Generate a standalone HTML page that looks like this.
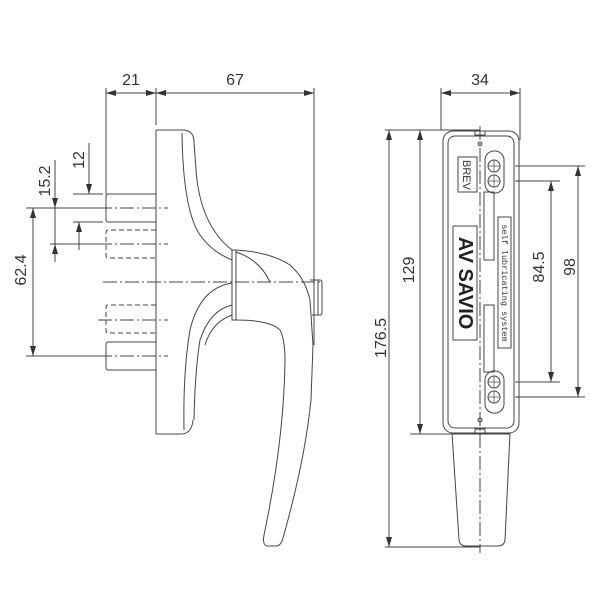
<!DOCTYPE html>
<html><head><meta charset="utf-8"><style>
html,body{margin:0;padding:0;background:#fff;}
svg{display:block;}
text{font-family:"Liberation Sans",sans-serif;fill:#333;}
</style></head><body>
<svg width="600" height="600" viewBox="0 0 600 600" xmlns="http://www.w3.org/2000/svg">
<defs>
<marker id="a" viewBox="0 0 10 6" refX="10" refY="3" markerWidth="10" markerHeight="6" orient="auto-start-reverse" markerUnits="userSpaceOnUse">
<path d="M0,0 L10,3 L0,6 Z" fill="#333"/></marker>
</defs>
<g stroke="#444" stroke-width="1" fill="none">
<!-- LEFT VIEW dims -->
<line x1="106" y1="88" x2="106" y2="194"/>
<line x1="156" y1="88" x2="156" y2="125"/>
<line x1="314" y1="88" x2="314" y2="345"/>
<line x1="106" y1="93" x2="156" y2="93" marker-start="url(#a)" marker-end="url(#a)"/>
<line x1="156" y1="93" x2="314" y2="93" marker-start="url(#a)" marker-end="url(#a)"/>
<!-- 62.4 -->
<line x1="26" y1="208" x2="100" y2="208"/>
<line x1="26" y1="356" x2="100" y2="356"/>
<line x1="33" y1="208" x2="33" y2="356" marker-start="url(#a)" marker-end="url(#a)"/>
<!-- 15.2 -->
<line x1="55" y1="160" x2="55" y2="208" marker-end="url(#a)"/>
<line x1="55" y1="262" x2="55" y2="244" marker-end="url(#a)"/>
<line x1="55" y1="208" x2="55" y2="244"/>
<line x1="50" y1="244" x2="100" y2="244"/>
<!-- 12 -->
<line x1="89" y1="143" x2="89" y2="194" marker-end="url(#a)"/>
<line x1="79" y1="250" x2="79" y2="222" marker-end="url(#a)"/>
<line x1="73" y1="194" x2="103" y2="194"/>
<line x1="73" y1="222" x2="103" y2="222"/>
<!-- plate -->
<path d="M156,130 L184,130 Q194,131 194,142"/>
<line x1="156" y1="130" x2="156" y2="434"/>
<path d="M156,434 L182,434 Q192,433 193,420"/>
<!-- pins -->
<path d="M156,194 L108,194 Q106,194 106,197 L106,219 Q106,222 108,222 L156,222"/>
<path d="M156,342 L108,342 Q106,342 106,345 L106,367 Q106,370 108,370 L156,370"/>
<path d="M156,230 L108,230 Q106,230 106,233 L106,255 Q106,258 108,258 L156,258" stroke-dasharray="5,3"/>
<path d="M156,305 L108,305 Q106,305 106,308 L106,330 Q106,333 108,333 L156,333" stroke-dasharray="5,3"/>
<g stroke-dasharray="14,3,2,3">
<line x1="98" y1="208" x2="168" y2="208"/>
<line x1="98" y1="244" x2="168" y2="244"/>
<line x1="98" y1="320" x2="168" y2="320"/>
<line x1="98" y1="356" x2="168" y2="356"/>
<line x1="103" y1="282" x2="322" y2="282"/>
</g>
<!-- handle upper arm -->
<path d="M194,142 L196,170 Q200,225 232,250"/>
<path d="M182,133 Q183,210 200,235 Q212,252 232,260"/>
<!-- rosette -->
<path d="M232,250 L236,250 L236,320 L232,320 Z"/>
<path d="M236,250 Q270,252 290,265 Q305,278 310,300 L313,345"/>
<path d="M236,252 Q260,260 270,282"/>
<!-- knob -->
<path d="M310,280 L320,280 Q322,280 322,283 L322,312 Q322,315 320,315 L312,315"/>
<line x1="318" y1="280" x2="318" y2="315"/>
<!-- lower wings -->
<path d="M232,283 Q200,288 190,330 Q183,370 184,430"/>
<path d="M232,305 Q210,310 200,340 Q195,370 194,420"/>
<path d="M232,315 Q212,322 205,345"/>
<!-- lever -->
<path d="M236,320 Q270,320 280,330 Q285,340 285,360 Q284,440 264,535 Q262,546 268,546 L276,546 Q281,546 283,538 Q305,460 311,400 L313,345"/>
</g>
<!-- RIGHT VIEW -->
<g stroke="#444" stroke-width="1" fill="none">
<line x1="441" y1="88" x2="441" y2="130"/>
<line x1="520" y1="88" x2="520" y2="140"/>
<line x1="441" y1="93" x2="520" y2="93" marker-start="url(#a)" marker-end="url(#a)"/>
<line x1="385" y1="130" x2="480" y2="130"/>
<line x1="385" y1="547" x2="480" y2="547"/>
<line x1="410" y1="434" x2="510" y2="434"/>
<line x1="389" y1="130" x2="389" y2="547" marker-start="url(#a)" marker-end="url(#a)"/>
<line x1="420" y1="130" x2="420" y2="434" marker-start="url(#a)" marker-end="url(#a)"/>
<line x1="515" y1="166" x2="585" y2="166"/>
<line x1="515" y1="397" x2="585" y2="397"/>
<line x1="515" y1="181" x2="560" y2="181"/>
<line x1="515" y1="382" x2="560" y2="382"/>
<line x1="578" y1="166" x2="578" y2="397" marker-start="url(#a)" marker-end="url(#a)"/>
<line x1="551" y1="181" x2="551" y2="382" marker-start="url(#a)" marker-end="url(#a)"/>
<rect x="443" y="131" width="76" height="302" rx="10"/>
<rect x="448" y="136" width="66" height="292" rx="7"/>
<path d="M452,433 L459,540 Q460,546 466,546 L498,546 Q504,546 505,540 L510,433"/>
<line x1="480" y1="126" x2="480" y2="553" stroke-dasharray="14,3,2,3"/>
<rect x="475" y="131" width="10" height="4"/><rect x="475" y="429" width="10" height="4"/>
<circle cx="480" cy="144" r="2"/><circle cx="480" cy="420" r="2"/>
<rect x="485" y="151" width="19" height="42" rx="9"/>
<rect x="485" y="371" width="19" height="42" rx="9"/>
<circle cx="494" cy="166" r="6"/><circle cx="494" cy="181" r="6"/>
<circle cx="494" cy="382" r="6"/><circle cx="494" cy="397" r="6"/>
<g stroke-width="0.7">
<line x1="488" y1="166" x2="500" y2="166"/><line x1="494" y1="160" x2="494" y2="172"/>
<line x1="488" y1="181" x2="500" y2="181"/><line x1="494" y1="175" x2="494" y2="187"/>
<line x1="488" y1="382" x2="500" y2="382"/><line x1="494" y1="376" x2="494" y2="388"/>
<line x1="488" y1="397" x2="500" y2="397"/><line x1="494" y1="391" x2="494" y2="403"/>
</g>
<rect x="458" y="157" width="19" height="35"/>
<rect x="453" y="226" width="24" height="114"/>
<rect x="484" y="192" width="10" height="68"/>
<rect x="484" y="305" width="10" height="67"/>
<rect x="498" y="217" width="13" height="131"/>
</g>
<!-- texts -->
<g font-size="16">
<text x="131" y="85" text-anchor="middle">21</text>
<text x="235" y="85" text-anchor="middle">67</text>
<text x="480" y="85" text-anchor="middle">34</text>
<text transform="translate(26,270) rotate(-90)" text-anchor="middle">62.4</text>
<text transform="translate(50,181) rotate(-90)" text-anchor="middle">15.2</text>
<text transform="translate(84,160) rotate(-90)" text-anchor="middle">12</text>
<text transform="translate(386,338) rotate(-90)" text-anchor="middle">176.5</text>
<text transform="translate(414,270) rotate(-90)" text-anchor="middle">129</text>
<text transform="translate(544,267) rotate(-90)" text-anchor="middle">84.5</text>
<text transform="translate(575,267) rotate(-90)" text-anchor="middle">98</text>
</g>
<text transform="translate(463,175) rotate(90)" text-anchor="middle" font-size="11">BREV</text>
<text transform="translate(459,283) rotate(90)" text-anchor="middle" font-size="20" font-weight="bold" style="fill:#222">AV SAVIO</text>
<text transform="translate(502,283) rotate(90)" text-anchor="middle" font-size="8.5" style="font-family:'Liberation Mono',monospace">self lubricating system</text>
</svg>
</body></html>
